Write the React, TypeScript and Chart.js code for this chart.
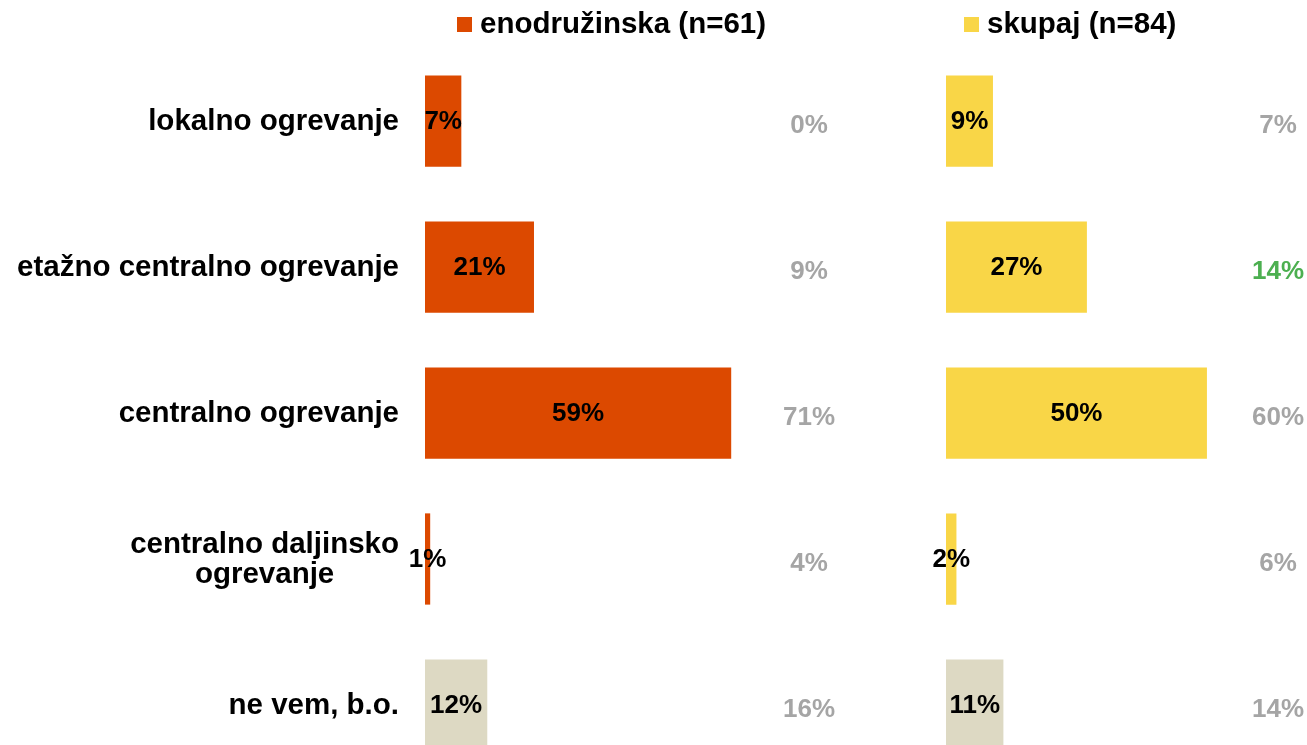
import React, { useEffect, useRef } from "react";
import { Chart, registerables } from "chart.js";

Chart.register(...registerables);

// ---- data ----
const categories: string[][] = [
  ["lokalno ogrevanje"],
  ["etažno centralno ogrevanje"],
  ["centralno ogrevanje"],
  ["centralno daljinsko", "ogrevanje"],
  ["ne vem, b.o."],
];
const seriesNames = ["enodružinska (n=61)", "skupaj (n=84)"];
const enodruzinskaValues = [7, 21, 59, 1, 12];
const skupajValues = [9, 27, 50, 2, 11];
const enodruzinskaCompare = [0, 9, 71, 4, 16];
const skupajCompare = [7, 14, 60, 6, 14];
const enodruzinskaHighlight = [false, false, false, false, false];
const skupajHighlight = [false, true, false, false, false];

// ---- styles ----
const ORANGE = "#DC4900";
const YELLOW = "#F9D647";
const BEIGE = "#DDD9C3";
const GREY = "#A5A5A5";
const GREEN = "#4CAF50";
const FONT = "'Liberation Sans', Arial, Helvetica, sans-serif";

type PanelCfg = {
  canvas: HTMLCanvasElement;
  values: number[];
  compare: number[];
  highlight: boolean[];
  color: string;
  name: string;
  max: number;
  padLeft: number;
  padRight: number;
  legendOffset: number;
  drawCategories: boolean;
};

function makePanel(cfg: PanelCfg) {
  const colors = cfg.values.map((_, i) => (i === cfg.values.length - 1 ? BEIGE : cfg.color));
  const labelsPlugin = {
    id: "panelLabels",
    afterDatasetsDraw(chart: any) {
      const ctx = chart.ctx as CanvasRenderingContext2D;
      const area = chart.chartArea;
      const meta = chart.getDatasetMeta(0);
      const yScale = chart.scales.y;
      ctx.save();
      // value labels in bars
      ctx.font = `bold 26px ${FONT}`;
      ctx.textAlign = "center";
      ctx.textBaseline = "middle";
      meta.data.forEach((el: any, i: number) => {
        const cx = (el.x + el.base) / 2;
        ctx.fillStyle = "#000";
        ctx.fillText(`${cfg.values[i]}%`, cx, el.y + 1);
      });
      // comparison labels
      cfg.compare.forEach((v, i) => {
        const y = yScale.getPixelForValue(i);
        ctx.fillStyle = cfg.highlight[i] ? GREEN : GREY;
        ctx.fillText(`${v}%`, area.right - 26, y + 5);
      });
      // legend
      ctx.font = `bold 29.5px ${FONT}`;
      const lx = area.left + cfg.legendOffset;
      ctx.fillStyle = cfg.color;
      ctx.fillRect(lx, 17, 15, 15);
      ctx.fillStyle = "#000";
      ctx.textAlign = "left";
      ctx.fillText(cfg.name, lx + 23, 25);
      // category labels
      if (cfg.drawCategories) {
        const lineH = 30;
        categories.forEach((lines, i) => {
          const cy = yScale.getPixelForValue(i);
          const widths = lines.map((l) => ctx.measureText(l).width);
          const bw = Math.max(...widths);
          const right = area.left - 26;
          const centerX = right - bw / 2;
          ctx.textAlign = "center";
          lines.forEach((l, j) => {
            const ly = cy + (j - (lines.length - 1) / 2) * lineH + 1;
            ctx.fillText(l, centerX, ly);
          });
        });
      }
      ctx.restore();
    },
  };

  return new Chart(cfg.canvas, {
    type: "bar",
    data: {
      labels: categories.map((c) => c.join(" ")),
      datasets: [
        {
          label: cfg.name,
          data: cfg.values,
          backgroundColor: colors,
          borderWidth: 0,
          categoryPercentage: 1,
          barPercentage: 0.625,
        },
      ],
    },
    options: {
      indexAxis: "y",
      responsive: false,
      animation: false,
      layout: { padding: { left: cfg.padLeft, right: cfg.padRight, top: 48, bottom: 0 } },
      plugins: { legend: { display: false }, tooltip: { enabled: false } },
      scales: {
        x: { display: false, min: 0, max: cfg.max },
        y: { display: false },
      },
    },
    plugins: [labelsPlugin],
  });
}

export default function App() {
  const leftRef = useRef<HTMLCanvasElement>(null);
  const rightRef = useRef<HTMLCanvasElement>(null);

  useEffect(() => {
    const left = makePanel({
      canvas: leftRef.current!,
      values: enodruzinskaValues,
      compare: enodruzinskaCompare,
      highlight: enodruzinskaHighlight,
      color: ORANGE,
      name: seriesNames[0],
      max: 79,
      padLeft: 425,
      padRight: 45,
      legendOffset: 32,
      drawCategories: true,
    });
    const right = makePanel({
      canvas: rightRef.current!,
      values: skupajValues,
      compare: skupajCompare,
      highlight: skupajHighlight,
      color: YELLOW,
      name: seriesNames[1],
      max: 68.6,
      padLeft: 66,
      padRight: 3,
      legendOffset: 18,
      drawCategories: false,
    });
    return () => {
      left.destroy();
      right.destroy();
    };
  }, []);

  return (
    <div
      style={{
        position: "fixed",
        left: 0,
        top: 0,
        width: 1307,
        height: 745,
        overflow: "hidden",
        background: "#fff",
      }}
    >
      <canvas
        ref={leftRef}
        width={880}
        height={778}
        style={{ position: "absolute", left: 0, top: 0, width: 880, height: 778 }}
      />
      <canvas
        ref={rightRef}
        width={427}
        height={778}
        style={{ position: "absolute", left: 880, top: 0, width: 427, height: 778 }}
      />
    </div>
  );
}
